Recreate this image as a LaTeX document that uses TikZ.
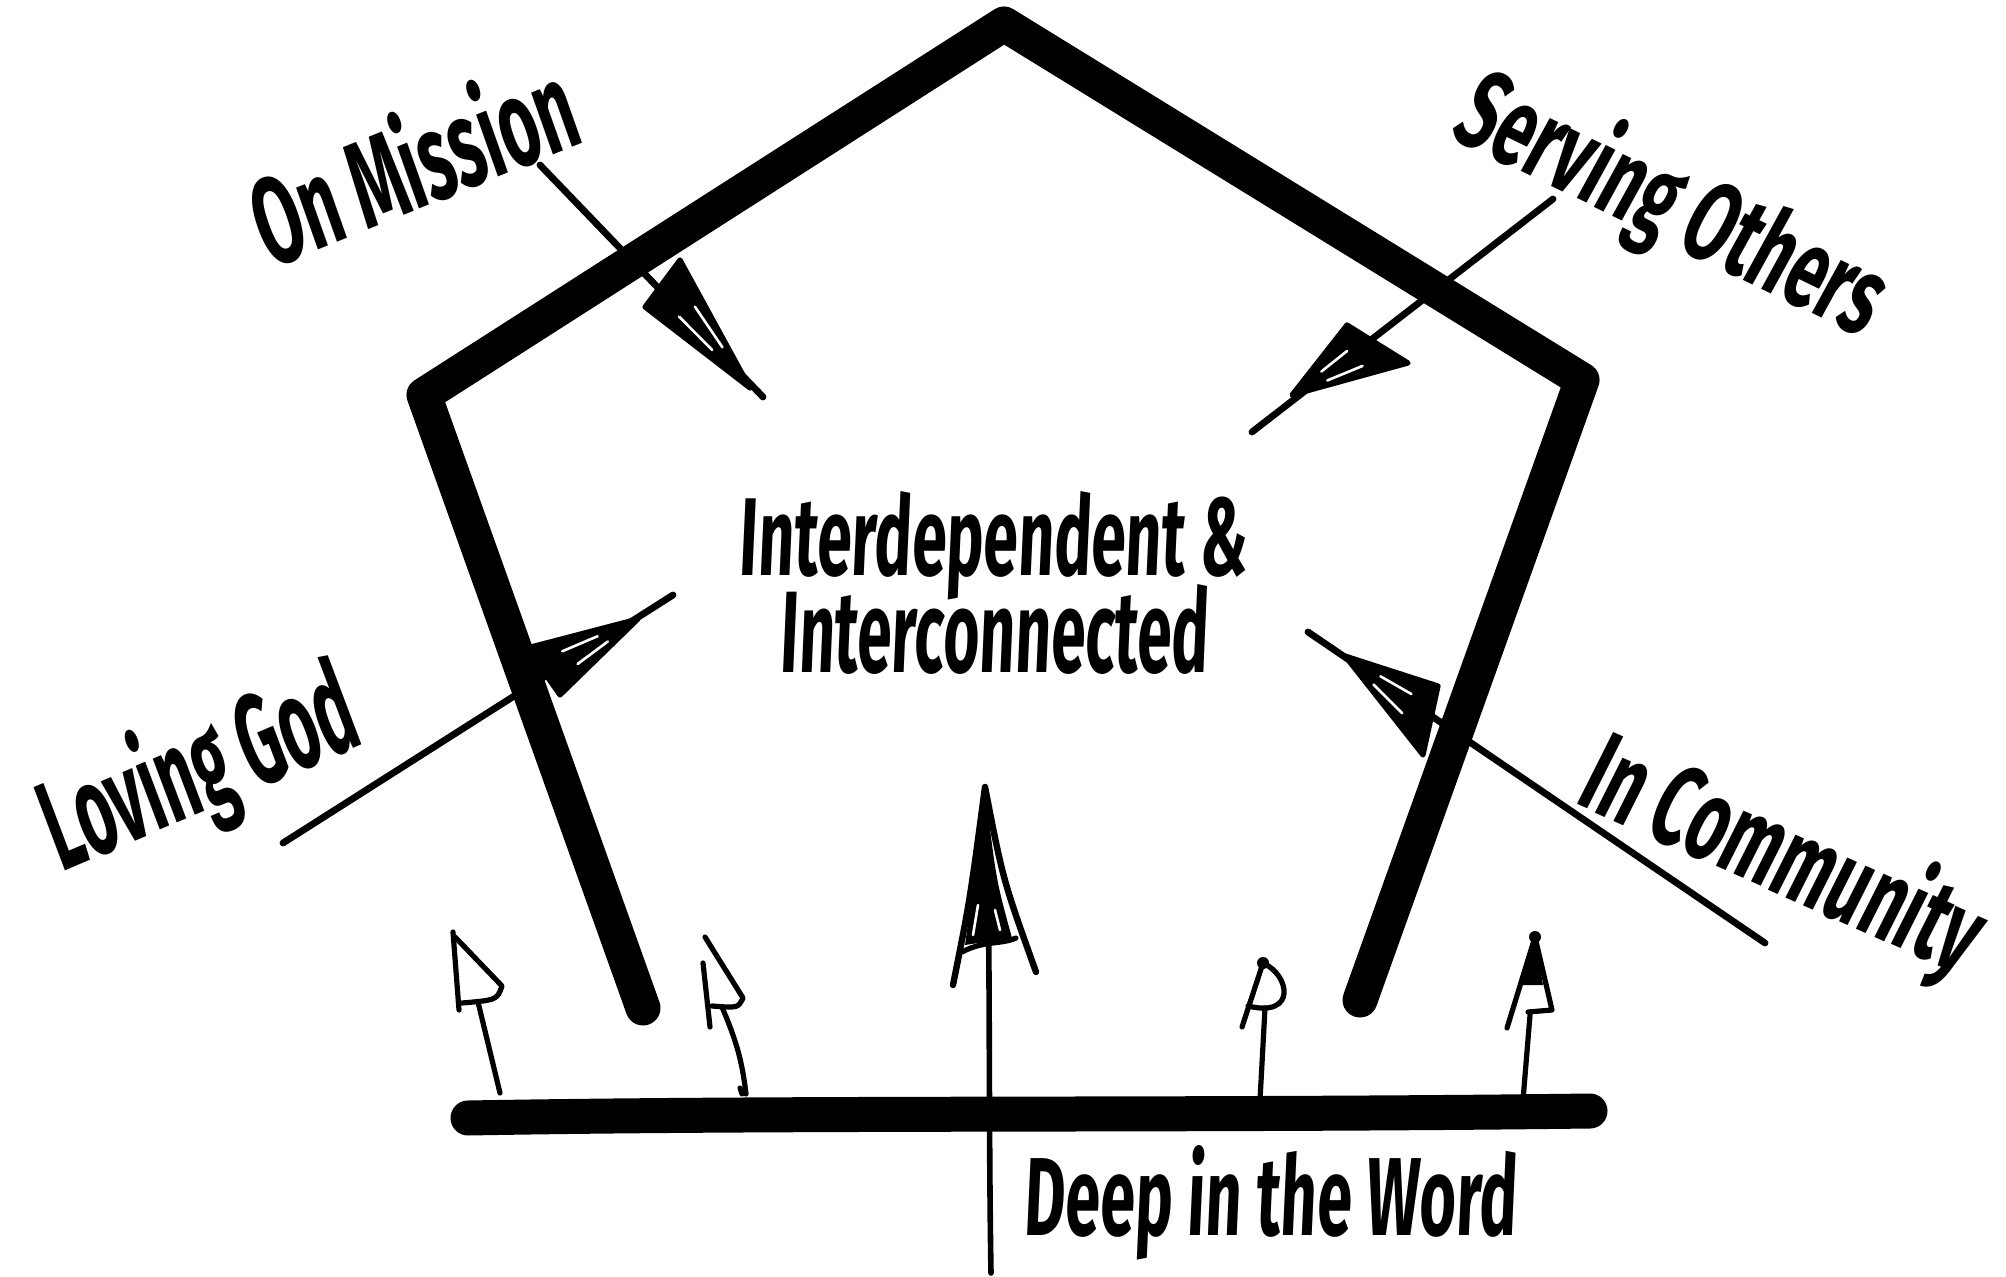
\documentclass[tikz,border=0pt]{standalone}
\usepackage{fontspec}
\usepackage{graphicx}
\newfontfamily\hand[FakeSlant=0.08]{Fira Sans}
\usetikzlibrary{calc}
\tikzset{
  lbl/.style={inner sep=0pt, font=\hand\bfseries},
  frame/.style={line width=17.5pt, line cap=round, line join=round},
  shaft/.style={line width=3.4pt, line cap=round},
  pen/.style={line width=2.6pt, line cap=round, line join=round},
  headfill/.style={fill=black, draw=black, line width=2.6pt, line join=round},
  streak/.style={white, line width=1.3pt, line cap=round},
}
\begin{document}
\begin{tikzpicture}[x=0.5pt,y=-0.5pt]
\useasboundingbox (0,0) rectangle (2006,1277);

% ---------- arrow shafts (behind frame) ----------
\coordinate (omS) at (540,165);  \coordinate (omE) at (763,397);
\coordinate (soS) at (1553,199); \coordinate (soE) at (1252,432);
\coordinate (lgS) at (283,843);  \coordinate (lgE) at (673,595);
\coordinate (icS) at (1765,943); \coordinate (icE) at (1308,632);
\draw[shaft] (omS) -- (omE);
\draw[shaft] (soS) -- (soE);
\draw[shaft] (lgS) -- (lgE);
\draw[shaft] (icS) -- (icE);

% central arrow shaft
\coordinate (cS) at (991,1273); \coordinate (cT) at (985,787);
\draw[line width=2.8pt, line cap=round] (cS) .. controls (988,1100) and (991,900) .. (cT);

% ---------- pentagon frame ----------
\coordinate (LB) at (643,1008);
\coordinate (LC) at (424,395);
\coordinate (AP) at (1004,24);
\coordinate (RC) at (1582,380);
\coordinate (RB) at (1360,1000);
\draw[frame] (LB) -- (LC) -- (AP) -- (RC) -- (RB);

% ---------- base line ----------
\coordinate (BL) at (468,1118);
\coordinate (BR) at (1590,1111);
\draw[frame] (BL) .. controls (800,1112) and (1200,1116) .. (BR);

% ---------- big arrowheads ----------
\coordinate (omL) at (645,307); \coordinate (omR) at (680,260); \coordinate (omT) at (750,388);
\filldraw[headfill] (omL) -- (omT) -- (omR) -- cycle;
\draw[streak] ($(omL)!0.3!(omR)!0.25!(omT)$) -- ($(omL)!0.3!(omR)!0.6!(omT)$);
\draw[streak] ($(omL)!0.75!(omR)!0.3!(omT)$) -- ($(omL)!0.75!(omR)!0.65!(omT)$);

\coordinate (soL) at (1347,325); \coordinate (soR) at (1408,363); \coordinate (soT) at (1292,395);
\filldraw[headfill] (soL) -- (soT) -- (soR) -- cycle;
\draw[streak] ($(soL)!0.3!(soR)!0.25!(soT)$) -- ($(soL)!0.3!(soR)!0.6!(soT)$);
\draw[streak] ($(soL)!0.75!(soR)!0.3!(soT)$) -- ($(soL)!0.75!(soR)!0.65!(soT)$);

\coordinate (lgA) at (527,648); \coordinate (lgB) at (560,695); \coordinate (lgT) at (638,619);
\filldraw[headfill] (lgA) -- (lgT) -- (lgB) -- cycle;
\draw[streak] ($(lgA)!0.3!(lgB)!0.25!(lgT)$) -- ($(lgA)!0.3!(lgB)!0.6!(lgT)$);
\draw[streak] ($(lgA)!0.75!(lgB)!0.3!(lgT)$) -- ($(lgA)!0.75!(lgB)!0.65!(lgT)$);

\coordinate (icA) at (1438,686); \coordinate (icB) at (1423,755); \coordinate (icT) at (1345,656);
\filldraw[headfill] (icA) -- (icT) -- (icB) -- cycle;
\draw[streak] ($(icA)!0.3!(icB)!0.25!(icT)$) -- ($(icA)!0.3!(icB)!0.6!(icT)$);
\draw[streak] ($(icA)!0.75!(icB)!0.3!(icT)$) -- ($(icA)!0.75!(icB)!0.65!(icT)$);

% central arrowhead
\coordinate (cL) at (953,985); \coordinate (cR) at (1036,972);
\draw[pen, line width=3.2pt] (cL) .. controls (970,900) .. (cT) .. controls (1003,880) .. (cR);
\fill (cT) .. controls (974,880) .. (965,945) -- (1012,938) .. controls (996,880) .. (cT);
\draw[streak] (978,905) -- (973,935);
\draw[streak] (995,910) -- (1000,930);
\draw[pen] (962,952) .. controls (985,940) and (1000,945) .. (1016,938);

% ---------- small arrows ----------
% a1
\coordinate (a1B) at (500,1093); \coordinate (a1T) at (453,932);
\draw[pen] (a1B) -- (478,1002);
\draw[pen] (a1T) -- (459,1010);
\draw[pen] (455,937) -- (502,986) .. controls (497,1000) .. (462,1003);
% a2
\coordinate (a2B) at (746,1094); \coordinate (a2T) at (705,937);
\draw[pen] (a2B) .. controls (742,1060) and (736,1040) .. (722,1007);
\draw[pen] (742,1094) -- (740,1088);
\draw[pen] (703,963) -- (710,1027);
\draw[pen] (a2T) -- (743,998) .. controls (738,1008) .. (712,1006);
% a4
\coordinate (a4B) at (1260,1100); \coordinate (a4T) at (1263,963);
\draw[pen] (a4B) -- (1265,1008);
\draw[pen] (a4T) -- (1242,1027);
\draw[pen] (1248,1006) .. controls (1297,1018) and (1290,975) .. (a4T);
\fill (a4T) circle (6);
% a5
\coordinate (a5B) at (1523,1100); \coordinate (a5T) at (1535,937);
\draw[pen] (a5B) -- (1530,1015);
\draw[pen] (1507,1028) -- (a5T) -- (1552,1010) -- (1528,1012);
\fill (a5T) -- (1522,985) -- (1543,985) -- cycle;
\fill (a5T) circle (6);

% ---------- labels ----------
\node[lbl, anchor=base] (t1) at (993,576) {\resizebox{254pt}{42pt}{Interdependent \&}};
\node[lbl, anchor=base] (t2) at (994,672) {\resizebox{214pt}{44pt}{Interconnected}};
\node[lbl, anchor=base] (t3) at (1270,1235) {\resizebox{246pt}{45pt}{Deep in the Word}};
\node[lbl, rotate=22] (om) at (410,160) {\resizebox{170pt}{50pt}{On Mission}};
\node[lbl, rotate=-26] (so) at (1670,207) {\resizebox{230pt}{46pt}{Serving Others}};
\node[lbl, rotate=23] (lg) at (199,773) {\resizebox{165pt}{52pt}{Loving God}};
\node[lbl, rotate=-24] (ic) at (1781,858) {\resizebox{212pt}{47pt}{In Community}};
\end{tikzpicture}
\end{document}
